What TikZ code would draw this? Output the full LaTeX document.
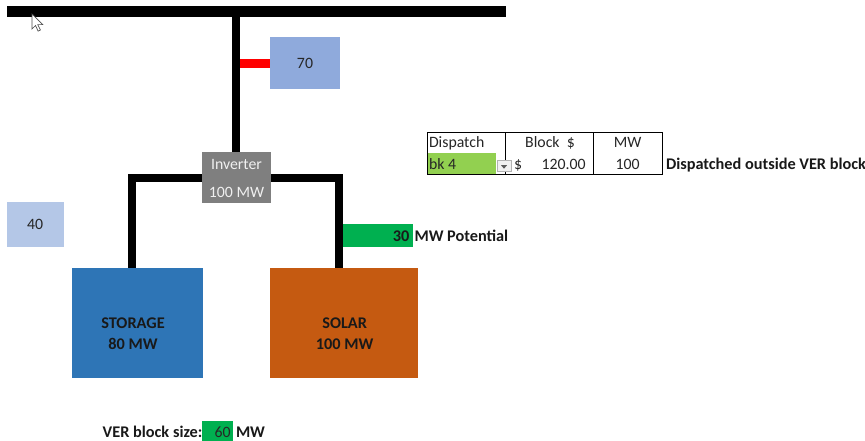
\documentclass[tikz,border=0pt]{standalone}
\usepackage{fontspec}
\setmainfont{Carlito}
\definecolor{cseventy}{HTML}{8FAADC}
\definecolor{cforty}{HTML}{B4C7E7}
\definecolor{cinv}{HTML}{7F7F7F}
\definecolor{cstor}{HTML}{2E75B6}
\definecolor{csol}{HTML}{C55A11}
\definecolor{cgbar}{HTML}{00B050}
\definecolor{ccell}{HTML}{92D050}
\definecolor{ctxt}{HTML}{262626}
\begin{document}
\begin{tikzpicture}[x=1pt,y=-1pt,
  every node/.style={inner sep=0pt, outer sep=0pt, text=ctxt},
  font=\fontsize{15.8}{18}\selectfont,
  box/.style={rectangle, anchor=north west},
  wire/.style={line width=8pt, black, line join=miter},
  bt/.style={font=\fontsize{16.3}{18}\selectfont\bfseries, text=black!90},
  tline/.style={line width=0.9pt, black}]
\useasboundingbox (0,0) rectangle (865,440);
% boxes
\node[box, fill=cseventy, minimum width=70pt, minimum height=52pt] (b70) at (270,37) {70};
\node[box, fill=cforty, minimum width=57pt, minimum height=45pt] (b40) at (6.7,202.3) {40};
\node[box, fill=cinv, minimum width=69pt, minimum height=51pt] (inv) at (202,152) {};
\node[anchor=base, text=white!94!black] (invt1) at (236.5,169) {Inverter};
\node[anchor=base, text=white!94!black] (invt2) at (236.5,197.3) {100 MW};
\node[box, fill=cstor, minimum width=131.6pt, minimum height=110pt] (stor) at (71.7,267.7) {};
\node[anchor=base, bt] (stort1) at (133,328) {STORAGE};
\node[anchor=base, bt] (stort2) at (133,349.6) {80 MW};
\node[box, fill=csol, minimum width=148.3pt, minimum height=110pt] (sol) at (270,267.7) {};
\node[anchor=base, bt] (solt1) at (344.7,328) {SOLAR};
\node[anchor=base, bt] (solt2) at (344.7,349.6) {100 MW};
% wires
\coordinate (busL) at (7,11.3);
\coordinate (busR) at (506,11.3);
\draw[line width=10.5pt] (busL) -- (busR);
\coordinate (trtop) at (236,11.3);
\draw[wire] (trtop) -- (trtop |- inv.north);
\coordinate (rj) at (240,63.8);
\draw[red, line width=9pt] (rj) -- (rj -| b70.west);
\coordinate (jl) at (131.5,178);
\coordinate (jr) at (338.5,178);
\draw[wire] (inv.west |- jl) -- (jl) -- (jl |- stor.north);
\draw[wire] (inv.east |- jr) -- (jr) -- (jr |- sol.north);
% potential bar
\node[box, fill=cgbar, minimum width=69.7pt, minimum height=22.7pt] (gb) at (343,224) {};
\node[anchor=base east, bt] (gbt) at (409.5,241) {30};
\node[anchor=base west, bt] (gbl) at (414.5,241) {MW Potential};
% table
\fill[ccell] (427,152.5) rectangle (496,174);
\draw[tline] (427,132.3) rectangle (662.3,174.3);
\draw[tline] (505.7,132.3) -- (505.7,174.3);
\draw[tline] (593.3,132.3) -- (593.3,174.3);
\node[box, fill=gray!12, draw=gray!60, line width=0.6pt, minimum width=14pt, minimum height=11pt] (dd) at (497,160.7) {};
\fill[gray!70!black] ([xshift=-3pt,yshift=1pt]dd.center) -- ([xshift=3pt,yshift=1pt]dd.center) -- ([yshift=-2.5pt]dd.center) -- cycle;
\node[anchor=base west] (th1) at (429,147) {Dispatch};
\node[anchor=base] (th2) at (550,147) {Block\ \ \$};
\node[anchor=base] (th3) at (627.7,147) {MW};
\node[anchor=base west] (td1) at (429,169.5) {bk 4};
\node[anchor=base west] (td2a) at (514,169.5) {\$};
\node[anchor=base east] (td2b) at (585.7,169.5) {120.00};
\node[anchor=base] (td3) at (627.7,169.5) {100};
\node[anchor=base west, bt] (tnote) at (666,169.5) {Dispatched outside VER block};
% VER block size
\node[anchor=base west, bt] (ver) at (102.7,437) {VER block size:};
\node[box, fill=cgbar, minimum width=31pt, minimum height=20pt] (vb) at (202.3,420.7) {};
\node[anchor=base east] (vbt) at (230.7,437) {60};
\node[anchor=base west, bt] (vbl) at (236,437) {MW};
% mouse cursor
\draw[fill=white, draw=gray!60!black, line width=0.7pt, line join=miter]
  (32,14) -- ++(0,15) -- ++(3.5,-3.5) -- ++(2.6,5.6) -- ++(2.3,-1.1) -- ++(-2.6,-5.4) -- ++(5,0) -- cycle;
\end{tikzpicture}
\end{document}
